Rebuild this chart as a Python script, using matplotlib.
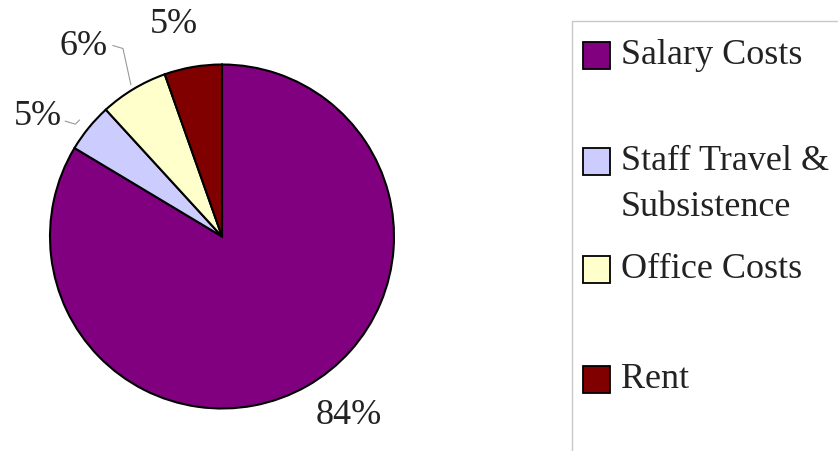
import matplotlib
matplotlib.use('Agg')

import numpy as np
import matplotlib.pyplot as plt
from matplotlib.patches import Rectangle

# data
categories = ["Salary Costs", "Staff Travel &\nSubsistence", "Office Costs", "Rent"]
shares = [83.6, 4.6, 6.4, 5.4]
colors = ["#800080", "#CCCCFF", "#FFFFCC", "#800000"]

# label placement around the pie (radius multiplier, angle nudge in degrees)
label_r = [1.27, 1.28, 1.37, 1.27]
label_nudge = [6.1, 5.8, 4.9, 3.0]
# leader lines: (start dx, start dy) in px from label centre, end radius
leader = [None, (27, 6, 1.07), (29, 0, 1.03), None]

plt.rcParams['font.family'] = ['Liberation Serif', 'DejaVu Serif']

fig = plt.figure(figsize=(8.38, 4.52), dpi=100)
W, H = 838, 452
cx, cy, r = 222, 237.5, 172
ax = fig.add_axes([(cx - r) / W, (H - cy - r) / H, 2 * r / W, 2 * r / H])

wedges, _ = ax.pie(shares, colors=colors, startangle=90, counterclock=False,
                   radius=1.0, wedgeprops=dict(edgecolor="black", linewidth=1.5))
ax.set_xlim(-1, 1)
ax.set_ylim(-1, 1)
ax.set_aspect("equal")
ax.axis("off")

for w, v, lr, nd, ld in zip(wedges, shares, label_r, label_nudge, leader):
    mid = (w.theta1 + w.theta2) / 2
    a = np.deg2rad(mid + nd)
    tx, ty = lr * np.cos(a), lr * np.sin(a)
    ax.text(tx, ty, "%.0f%%" % v, ha="center", va="center", fontsize=26,
            color="#222222", clip_on=False)
    if ld:
        sx, sy, er = ld
        x0, y0 = tx + sx / r, ty - sy / r
        ex, ey = er * np.cos(np.deg2rad(mid)), er * np.sin(np.deg2rad(mid))
        x1, y1 = x0 + 10 / r, y0 - 3 / r
        ax.plot([x0, x1, ex], [y0, y1, ey], color="#999999",
                lw=0.8, clip_on=False)

# legend frame (runs off the right/bottom edge like the source)
fig.patches.append(Rectangle((572 / W, -0.05), 0.5, (H - 22) / H + 0.05,
                             transform=fig.transFigure, facecolor="white",
                             edgecolor="#c8c8c8", lw=1.0, zorder=0))

legend_y = [56, 162, 270, 380]
line_gap = 46
sq = 27
for lab, col, y in zip(categories, colors, legend_y):
    fig.patches.append(Rectangle((583 / W, (H - y - sq / 2) / H), sq / W, sq / H,
                                 transform=fig.transFigure, facecolor=col,
                                 edgecolor="black", lw=1.3))
    for i, part in enumerate(lab.split("\n")):
        fig.text(621 / W, (H - y - i * line_gap) / H, part, fontsize=26,
                 color="#222222", ha="left", va="center")

fig.savefig("out.png", dpi=100)
